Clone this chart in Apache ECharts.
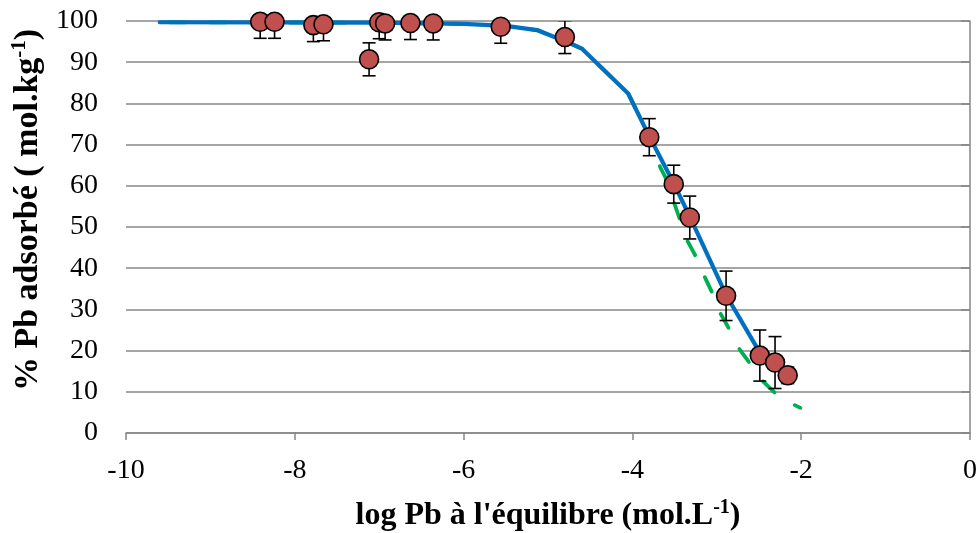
<!DOCTYPE html>
<html>
<head>
<meta charset="utf-8">
<script src="https://cdn.jsdelivr.net/npm/echarts@6/dist/echarts.min.js"></script>
<style>
html,body{margin:0;padding:0;background:#fff;}
#chart{width:980px;height:533px;}
</style>
</head>
<body>
<div id="chart"></div>
<script>
// Observed points
const obsX = [-8.41,-8.24,-7.78,-7.66,-7.12,-7.00,-6.93,-6.63,-6.36,-5.56,-4.80,-3.80,-3.51,-3.32,-2.89,-2.49,-2.31,-2.16];
const obsY = [99.8,99.8,99.0,99.2,90.7,99.7,99.4,99.5,99.4,98.6,96.1,71.8,60.4,52.3,33.3,18.8,17.1,14.0];
const obsErr = [4,4,4,4,4,4,4,4,4,4,4,4.5,4.6,5.2,6,6.2,6.3,2];

// Model curve (solid blue)
const fitX = [-9.6,-7,-6,-5.5,-5.13,-4.74,-4.6,-4.05,-3.8,-3.51,-3.32,-2.89,-2.49];
const fitY = [99.7,99.6,99.3,98.8,97.8,94.6,93.3,82.4,72.0,60.6,52.5,33.5,19.5];

// Second model curve (dashed green)
const fit2X = [-9.6,-7,-6,-5.5,-5.13,-4.74,-4.6,-4.05,-3.8,-3.67,-3.61,-3.355,-3.26,-3.165,-3.06,-2.97,-2.86,-2.755,-2.625,-2.49,-2.31,-2.09,-2.01];
const fit2Y = [99.7,99.6,99.3,98.8,97.8,94.6,93.3,82.4,72.0,64.5,62.1,46.9,43.3,38.8,34.3,29.5,25.5,21.0,17.4,13.3,9.7,6.9,6.1];

// Axis settings
const xMin = -10, xMax = 0, xStep = 2;
const yMin = 0, yMax = 100, yStep = 10;

const FONT = '"Liberation Serif", "Times New Roman", serif';
const GRAY = '#878787';

const chart = echarts.init(document.getElementById('chart'), null, {renderer: 'canvas'});

const xTitleRich = {
  b: {fontFamily: FONT, fontWeight: 'bold', fontSize: 32, color: '#000', lineHeight: 36},
  s: {fontFamily: FONT, fontWeight: 'bold', fontSize: 20, color: '#000', verticalAlign: 'top', lineHeight: 36}
};
const yTitleRich = {
  b: {fontFamily: FONT, fontWeight: 'bold', fontSize: 34, color: '#000', lineHeight: 38},
  s: {fontFamily: FONT, fontWeight: 'bold', fontSize: 21, color: '#000', verticalAlign: 'top', lineHeight: 38}
};

const option = {
  animation: false,
  backgroundColor: '#fff',
  grid: {left: 126, right: 10, top: 21, bottom: 100, containLabel: false, outerBoundsMode: 'none'},
  xAxis: {
    type: 'value', min: xMin, max: xMax, interval: xStep,
    name: '{b|log Pb à l\'équilibre (mol.L}{s|-1}{b|)}',
    nameLocation: 'middle', nameGap: 65,
    nameTextStyle: {rich: xTitleRich},
    axisLine: {show: true, lineStyle: {color: GRAY, width: 1.5}},
    axisTick: {show: true, inside: false, length: 7, lineStyle: {color: GRAY, width: 1.5}},
    splitLine: {show: false},
    axisLabel: {fontFamily: FONT, fontSize: 28, color: '#000', margin: 24}
  },
  yAxis: {
    type: 'value', min: yMin, max: yMax, interval: yStep,
    name: '{b|% Pb adsorbé ( mol.kg}{s|-1}{b|)}',
    nameLocation: 'middle', nameGap: 78,
    nameTextStyle: {padding: [0, 0, 0, 34], rich: yTitleRich},
    axisLine: {show: true, lineStyle: {color: GRAY, width: 1.5}},
    axisTick: {show: true, inside: false, length: 9, lineStyle: {color: GRAY, width: 1.5}},
    splitLine: {show: true, lineStyle: {color: GRAY, width: 1.5}},
    axisLabel: {fontFamily: FONT, fontSize: 28, color: '#000', margin: 28}
  },
  series: [
    {
      type: 'line', name: 'model2', z: 2,
      data: fit2X.map((x, i) => [x, fit2Y[i]]),
      symbol: 'none', smooth: false,
      lineStyle: {color: '#00B050', width: 3.8, type: [16, 24], dashOffset: 30, cap: 'round'}
    },
    {
      type: 'line', name: 'model', z: 3,
      data: fitX.map((x, i) => [x, fitY[i]]),
      symbol: 'none', smooth: false,
      lineStyle: {color: '#0070C0', width: 4.2, cap: 'round', join: 'round'}
    },
    {
      type: 'custom', name: 'errors', z: 4, clip: true,
      data: obsX.map((x, i) => [x, obsY[i], obsErr[i]]),
      encode: {x: 0, y: 1},
      renderItem: function (params, api) {
        const x = api.value(0), y = api.value(1), e = api.value(2);
        const t = api.coord([x, y + e]);
        const b = api.coord([x, y - e]);
        const cw = 6.5;
        const st = {stroke: '#000', lineWidth: 1.6};
        return {
          type: 'group',
          children: [
            {type: 'line', shape: {x1: t[0], y1: t[1], x2: b[0], y2: b[1]}, style: st},
            {type: 'line', shape: {x1: t[0] - cw, y1: t[1], x2: t[0] + cw, y2: t[1]}, style: st},
            {type: 'line', shape: {x1: b[0] - cw, y1: b[1], x2: b[0] + cw, y2: b[1]}, style: st}
          ]
        };
      }
    },
    {
      type: 'scatter', name: 'obs', z: 5,
      data: obsX.map((x, i) => [x, obsY[i]]),
      symbol: 'circle', symbolSize: 19,
      itemStyle: {color: '#C0504D', borderColor: '#000', borderWidth: 1.6, opacity: 1}
    }
  ]
};
chart.setOption(option);
</script>
</body>
</html>
